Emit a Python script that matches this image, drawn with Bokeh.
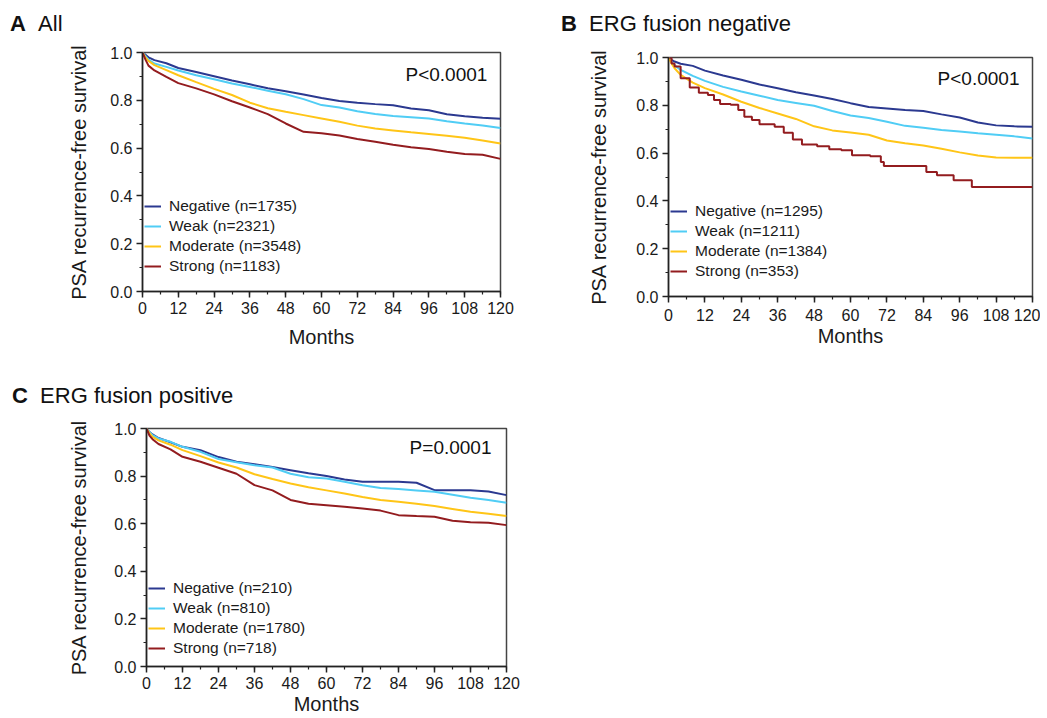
from bokeh.plotting import figure
from bokeh.layouts import column, row
from bokeh.models import Range1d, SingleIntervalTicker, Label, PrintfTickFormatter, Div
from bokeh.embed import file_html
from bokeh.resources import INLINE

FONT = "Liberation Sans"

groups = ["Negative", "Weak", "Moderate", "Strong"]
colors = ["#2B3990", "#50CDF5", "#FFC517", "#931C1F"]
x_ticks_interval = 12
y_label = "PSA recurrence-free survival"
x_label = "Months"

months = [0, 1, 2, 4, 8, 12, 18, 24, 30, 36, 42, 48, 54, 60, 66, 72, 78, 84, 90, 96, 102, 108, 114, 120]

# Panel A: All
a_title = "All"
a_p = "P<0.0001"
a_n = [1735, 2321, 3548, 1183]
a_negative = [1.0, 0.99, 0.98, 0.968, 0.955, 0.935, 0.918, 0.901, 0.883, 0.867, 0.850, 0.838, 0.824, 0.810, 0.797, 0.790, 0.784, 0.779, 0.766, 0.758, 0.742, 0.733, 0.727, 0.723]
a_weak = [1.0, 0.985, 0.97, 0.954, 0.940, 0.925, 0.905, 0.888, 0.870, 0.856, 0.840, 0.825, 0.805, 0.780, 0.770, 0.754, 0.743, 0.734, 0.729, 0.724, 0.712, 0.703, 0.695, 0.684]
a_moderate = [1.0, 0.98, 0.965, 0.947, 0.926, 0.905, 0.876, 0.848, 0.822, 0.790, 0.767, 0.752, 0.738, 0.724, 0.710, 0.694, 0.682, 0.674, 0.666, 0.659, 0.652, 0.643, 0.632, 0.619]
a_strong = [1.0, 0.97, 0.945, 0.925, 0.898, 0.872, 0.850, 0.825, 0.796, 0.770, 0.742, 0.703, 0.668, 0.662, 0.653, 0.638, 0.627, 0.614, 0.604, 0.596, 0.585, 0.575, 0.572, 0.555]

# Panel B: ERG fusion negative
b_title = "ERG fusion negative"
b_p = "P<0.0001"
b_n = [1295, 1211, 1384, 353]
b_negative = [1.0, 0.99, 0.983, 0.974, 0.965, 0.945, 0.925, 0.907, 0.887, 0.871, 0.855, 0.841, 0.826, 0.809, 0.793, 0.787, 0.780, 0.776, 0.762, 0.749, 0.728, 0.716, 0.712, 0.710]
b_weak = [1.0, 0.982, 0.968, 0.948, 0.923, 0.902, 0.877, 0.858, 0.840, 0.822, 0.810, 0.798, 0.776, 0.757, 0.747, 0.731, 0.714, 0.706, 0.697, 0.690, 0.683, 0.677, 0.670, 0.661]
b_moderate = [1.0, 0.975, 0.955, 0.927, 0.895, 0.872, 0.845, 0.815, 0.789, 0.766, 0.743, 0.712, 0.695, 0.686, 0.677, 0.653, 0.641, 0.632, 0.618, 0.603, 0.590, 0.582, 0.581, 0.581]
b_strong_months = [0, 1, 2, 4, 7, 10, 13, 15, 17, 20.5, 23, 25, 27.5, 30, 35, 38, 41, 44, 49, 53, 57, 60.5, 66.5, 70, 71, 83.5, 85, 88.5, 94, 100, 120]
b_strong = [1.0, 0.975, 0.962, 0.913, 0.875, 0.853, 0.843, 0.822, 0.805, 0.802, 0.780, 0.752, 0.738, 0.721, 0.710, 0.685, 0.657, 0.636, 0.629, 0.616, 0.612, 0.591, 0.587, 0.563, 0.546, 0.546, 0.521, 0.507, 0.486, 0.458, 0.458]

# Panel C: ERG fusion positive
c_title = "ERG fusion positive"
c_p = "P=0.0001"
c_n = [210, 810, 1780, 718]
c_negative = [1.0, 0.985, 0.975, 0.960, 0.942, 0.923, 0.909, 0.880, 0.860, 0.850, 0.838, 0.825, 0.812, 0.800, 0.786, 0.776, 0.776, 0.776, 0.772, 0.741, 0.741, 0.741, 0.735, 0.720]
c_weak = [1.0, 0.985, 0.972, 0.958, 0.944, 0.923, 0.902, 0.872, 0.858, 0.846, 0.836, 0.810, 0.795, 0.790, 0.776, 0.762, 0.750, 0.746, 0.740, 0.734, 0.722, 0.709, 0.700, 0.688]
c_moderate = [1.0, 0.98, 0.965, 0.950, 0.932, 0.909, 0.884, 0.857, 0.836, 0.808, 0.788, 0.769, 0.753, 0.740, 0.727, 0.712, 0.700, 0.692, 0.684, 0.674, 0.662, 0.650, 0.642, 0.632]
c_strong = [1.0, 0.97, 0.955, 0.935, 0.912, 0.881, 0.860, 0.835, 0.810, 0.762, 0.740, 0.700, 0.684, 0.678, 0.671, 0.664, 0.655, 0.636, 0.632, 0.629, 0.612, 0.606, 0.604, 0.594]


def make_title(letter, text, width, height, pad_left, pad_top):
    return Div(text=f"<b>{letter}</b>&nbsp;&nbsp;{text}", width=width, height=height, margin=0,
               styles={"font-family": FONT, "font-size": "22px", "color": "#111111",
                       "line-height": "26px", "padding-left": f"{pad_left}px",
                       "padding-top": f"{pad_top}px", "box-sizing": "border-box",
                       "white-space": "nowrap"})


def make_panel(ptext, ns, series, width, height, bl, br, bt, bb,
               ylab_standoff, xtick_standoff, xlab_standoff, p_pos, legend_y):
    p = figure(width=width, height=height, output_backend="svg", toolbar_location=None,
               x_range=Range1d(0, 120), y_range=Range1d(0, 1.0), margin=0,
               min_border_left=bl, min_border_right=br, min_border_top=bt, min_border_bottom=bb)
    p.background_fill_color = "white"
    p.border_fill_color = "white"
    p.outline_line_color = "#444444"
    p.outline_line_width = 1.5
    p.xgrid.visible = False
    p.ygrid.visible = False

    for (xs, ys, mode), g, n, c in zip(series, groups, ns, colors):
        if mode is None:
            p.line(xs, ys, line_color=c, line_width=2, legend_label=f"{g} (n={n})")
        else:
            p.step(xs, ys, mode=mode, line_color=c, line_width=2,
                   legend_label=f"{g} (n={n})")

    p.xaxis.ticker = SingleIntervalTicker(interval=x_ticks_interval, num_minor_ticks=2)
    p.yaxis.ticker = SingleIntervalTicker(interval=0.2, num_minor_ticks=2)
    p.yaxis.formatter = PrintfTickFormatter(format="%.1f")
    for ax in (p.xaxis[0], p.yaxis[0]):
        ax.axis_line_color = "#222222"
        ax.axis_line_width = 1.5
        ax.major_tick_line_color = "#222222"
        ax.major_tick_line_width = 1.5
        ax.minor_tick_line_color = "#222222"
        ax.minor_tick_line_width = 1.2
        ax.major_tick_in = 0
        ax.major_tick_out = 6
        ax.minor_tick_in = 0
        ax.minor_tick_out = 3
        ax.major_label_text_font = FONT
        ax.major_label_text_font_size = "16px"
        ax.major_label_text_color = "#1a1a1a"
        ax.axis_label_text_font = FONT
        ax.axis_label_text_font_size = "20px"
        ax.axis_label_text_font_style = "normal"
        ax.axis_label_text_color = "#1a1a1a"
    p.yaxis.major_label_standoff = 4
    p.xaxis.major_label_standoff = xtick_standoff
    p.xaxis.axis_label = x_label
    p.yaxis.axis_label = y_label
    p.yaxis.axis_label_standoff = ylab_standoff
    p.xaxis.axis_label_standoff = xlab_standoff

    lg = p.legend[0]
    lg.location = (2, legend_y)
    lg.padding = 0
    lg.margin = 0
    lg.spacing = 0
    lg.glyph_width = 17
    lg.glyph_height = 20
    lg.label_height = 20
    lg.label_standoff = 8
    lg.label_text_font = FONT
    lg.label_text_font_size = "15.5px"
    lg.label_text_color = "#1a1a1a"
    lg.background_fill_alpha = 0
    lg.border_line_alpha = 0

    p.add_layout(Label(x=p_pos[0], y=p_pos[1], text=ptext, text_font=FONT, text_font_size="19px",
                       text_align="right", text_baseline="middle", text_color="#111111"))
    return p


ta = make_title("A", a_title, 532, 40, 10, 11)
pa = make_panel(a_p, a_n,
                [(months, a_negative, None), (months, a_weak, None),
                 (months, a_moderate, None), (months, a_strong, None)],
                width=532, height=310, bl=142, br=32, bt=12, bb=59,
                ylab_standoff=17, xtick_standoff=4, xlab_standoff=9,
                p_pos=(115.6, 0.908), legend_y=15)

tb = make_title("B", b_title, 508, 40, 29, 11)
pb = make_panel(b_p, b_n,
                [(months, b_negative, None), (months, b_weak, None),
                 (months, b_moderate, None), (b_strong_months, b_strong, "after")],
                width=508, height=310, bl=136, br=8, bt=17, bb=54,
                ylab_standoff=23, xtick_standoff=6, xlab_standoff=1,
                p_pos=(115.7, 0.912), legend_y=15)

tc = make_title("C", c_title, 532, 62, 12, 33)
pc = make_panel(c_p, c_n,
                [(months, c_negative, None), (months, c_weak, None),
                 (months, c_moderate, None), (months, c_strong, None)],
                width=532, height=306, bl=146, br=26, bt=16, bb=52,
                ylab_standoff=21, xtick_standoff=4, xlab_standoff=1,
                p_pos=(115.0, 0.922), legend_y=8)

layout = column(row(column(ta, pa), column(tb, pb)), column(tc, pc))
open("out.html", "w").write(file_html(layout, INLINE))
